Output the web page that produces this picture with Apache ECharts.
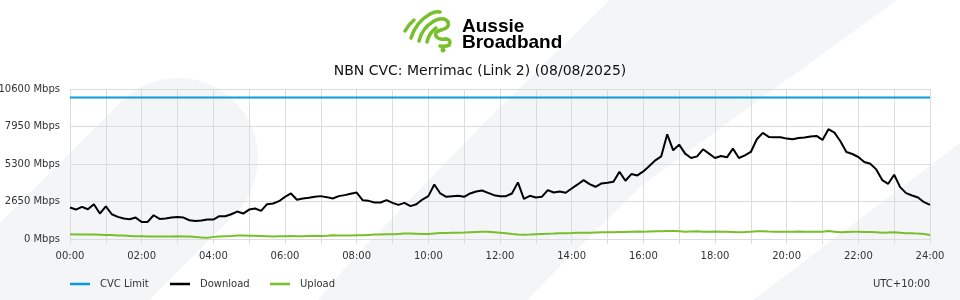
<!DOCTYPE html>
<html><head><meta charset="utf-8">
<script src="https://cdn.jsdelivr.net/npm/echarts@6/dist/echarts.min.js"></script>
<style>html,body{margin:0;padding:0;background:#fff}#c{width:960px;height:300px}</style>
</head><body><div id="c"></div>
<script>
const chartTitle = 'NBN CVC: Merrimac (Link 2) (08/08/2025)';
const seriesNames = ['CVC Limit', 'Download', 'Upload'];
const timezoneLabel = 'UTC+10:00';
const stepMinutes = 10;
const cvcLimit = 10000;
const yMax = 10600;
const yStep = 2650;
const download = [
  2223, 2081, 2270, 2105, 2460, 1797, 2300, 1750, 1561, 1443,
  1395, 1514, 1206, 1206, 1679, 1419, 1443, 1514, 1561, 1514,
  1324, 1277, 1300, 1372, 1372, 1608, 1608, 1750, 1939, 1797,
  2081, 2152, 1987, 2460, 2507, 2672, 2980, 3216, 2770, 2864,
  2911, 2982, 3030, 2958, 2864, 3030, 3100, 3195, 3280, 2743,
  2696, 2578, 2578, 2743, 2554, 2412, 2554, 2320, 2460, 2790,
  3029, 3850, 3216, 2980, 3027, 3051, 2980, 3216, 3358, 3429,
  3264, 3098, 3027, 3027, 3216, 4000, 2838, 3051, 2933, 2980,
  3453, 3287, 3358, 3264, 3571, 3855, 4163, 3879, 3690, 3926,
  3973, 4044, 4754, 4116, 4588, 4494,
  4777, 5155, 5557, 5841, 7400, 6267, 6669, 6030, 5723, 5841,
  6338, 6030, 5723, 5865, 5770, 6385, 5723, 5912, 6149, 7047,
  7496, 7212, 7189, 7189, 7094, 7047, 7142, 7165, 7236, 7283,
  7000, 7757, 7520, 6905, 6149, 6007, 5794, 5439, 5321, 4919,
  4162, 3902, 4541, 3666, 3240, 3075, 2933, 2602, 2412
];
const upload = [
  330, 320, 320, 310, 310, 300, 290,
  280, 250, 240, 220, 200, 190,
  180, 180, 170, 180, 180, 190,
  180, 170, 150, 100, 80, 150,
  180, 200, 220, 250, 240, 230,
  230, 220, 200, 180, 190, 200,
  210, 190, 200, 220, 230, 220,
  230, 260, 240, 250, 240, 260,
  270, 290, 310, 320, 330, 340,
  360, 380, 380, 370, 350, 360,
  390, 420, 430, 440, 450, 460,
  480, 500, 520, 510, 480, 440,
  400, 350, 320, 300, 310, 330,
  350, 370, 380, 400, 410, 420,
  440, 450, 450, 460, 470, 470,
  480, 490, 500, 520, 530, 520,
  530, 540, 550, 570, 560, 540,
  520, 530, 540, 520, 520, 530,
  520, 510, 500, 480, 490, 520,
  540, 550, 530, 520, 520, 520,
  520, 530, 520, 520, 510, 520,
  560, 520, 480, 500, 510, 520,
  500, 490, 470, 450, 460, 470,
  440, 400, 410, 380, 360, 290
];

const font = '"DejaVu Sans", Verdana, sans-serif';
const bg = '#f4f5f7';
const green = '#77bf2b';

// decorative left blob (stadium rotated 45deg)
function blobPoints() {
  const cx = 178, cy = 158, R = 80, pts = [];
  for (let a = 45; a >= -135; a -= 5) {
    const t = a * Math.PI / 180;
    pts.push([cx + R * Math.cos(t), cy + R * Math.sin(t)]);
  }
  const d = [Math.SQRT1_2, -Math.SQRT1_2];
  const p1 = pts[pts.length - 1], p0 = pts[0];
  pts.push([p1[0] - 600 * d[0], p1[1] - 600 * d[1]]);
  pts.push([p0[0] - 600 * d[0], p0[1] - 600 * d[1]]);
  return pts;
}

// logo strokes: [x1,y1,cpx,cpy,x2,y2]
const logoCurves = [
  [405,31, 408,25, 414,20],
  [411,38, 416,22, 430,14], [430,14, 436,11, 440,12],
  [419,41, 422,28, 434,21], [434,21, 444,16, 448,22], [448,22, 450,28, 441,30],
  [441,30, 434,32, 436,36], [436,36, 438,40, 446,39], [446,39, 452,40, 449,45], [449,45, 446,47, 440,46],
  [427,42, 429,33, 436,28]
];
const logoGraphics = logoCurves.map(c => ({
  type: 'bezierCurve', z: 10,
  shape: {x1: c[0], y1: c[1], cpx1: c[2], cpy1: c[3], x2: c[4], y2: c[5]},
  style: {fill: null, stroke: green, lineWidth: 3.5, lineCap: 'round'}
}));

const chart = echarts.init(document.getElementById('c'), null, {renderer: 'canvas'});
chart.setOption({
  animation: false,
  backgroundColor: '#ffffff',
  title: {
    text: chartTitle, left: 'center', top: 59,
    textStyle: {fontFamily: font, fontSize: 14, fontWeight: 'normal', color: '#111'}
  },
  grid: {left: 70, right: 30, top: 89, bottom: 61, containLabel: false, outerBoundsMode: 'none'},
  legend: [0, 1, 2].map(i => ({
    data: [seriesNames[i]], left: 70 + i * 100, top: 279, padding: 0,
    icon: 'rect', itemWidth: 20, itemHeight: 2.5, itemGap: 0,
    textStyle: {fontFamily: font, fontSize: 10, color: '#333', padding: [0, 0, 0, 5]}
  })),
  xAxis: {
    type: 'value', min: 0, max: 1440, interval: 60,
    axisLine: {show: false},
    axisTick: {show: true, length: 5, lineStyle: {color: '#dcdcdc'}},
    splitLine: {show: true, lineStyle: {color: '#dcdcdc'}},
    axisLabel: {
      fontFamily: font, fontSize: 10, color: '#333', margin: 12,
      formatter: v => v % 120 === 0 ? String(v / 60).padStart(2, '0') + ':00' : ''
    }
  },
  yAxis: {
    type: 'value', min: 0, max: yMax, interval: yStep,
    axisLine: {show: false}, axisTick: {show: false},
    splitLine: {lineStyle: {color: '#dcdcdc'}},
    axisLabel: {fontFamily: font, fontSize: 10, color: '#333', margin: 10, formatter: v => v + ' Mbps'}
  },
  series: [
    {name: seriesNames[0], type: 'line', showSymbol: false, color: '#0a9ad7',
     lineStyle: {width: 2}, data: [[0, cvcLimit], [1440, cvcLimit]]},
    {name: seriesNames[1], type: 'line', showSymbol: false, color: '#000000',
     lineStyle: {width: 2}, data: download.map((v, i) => [i * stepMinutes, v])},
    {name: seriesNames[2], type: 'line', showSymbol: false, color: green,
     lineStyle: {width: 2}, data: upload.map((v, i) => [i * stepMinutes, v])}
  ],
  graphic: [
    {type: 'polygon', z: -10, shape: {points: blobPoints()}, style: {fill: bg}},
    {type: 'polygon', z: -10, shape: {points: [[318,300],[352,260],[480,127],[610,0],[897,0],[759,100],[640,187],[566,260],[527,300]]}, style: {fill: bg}},
    {type: 'polygon', z: -10, shape: {points: [[753,300],[960,143],[960,300]]}, style: {fill: bg}},
    ...logoGraphics,
    {type: 'circle', z: 10, shape: {cx: 443, cy: 50, r: 2.5}, style: {fill: green}},
    {type: 'text', z: 10, style: {text: 'Aussie', x: 462, y: 26.5, fill: '#000', font: 'bold 19px "Liberation Sans", Arial, sans-serif', verticalAlign: 'middle'}},
    {type: 'text', z: 10, style: {text: 'Broadband', x: 462, y: 42.5, fill: '#000', font: 'bold 19px "Liberation Sans", Arial, sans-serif', verticalAlign: 'middle'}},
    {type: 'text', z: 10, style: {text: timezoneLabel, x: 930, y: 284.5, fill: '#333', font: '10px ' + font, align: 'right', verticalAlign: 'middle'}}
  ]
});
</script></body></html>
